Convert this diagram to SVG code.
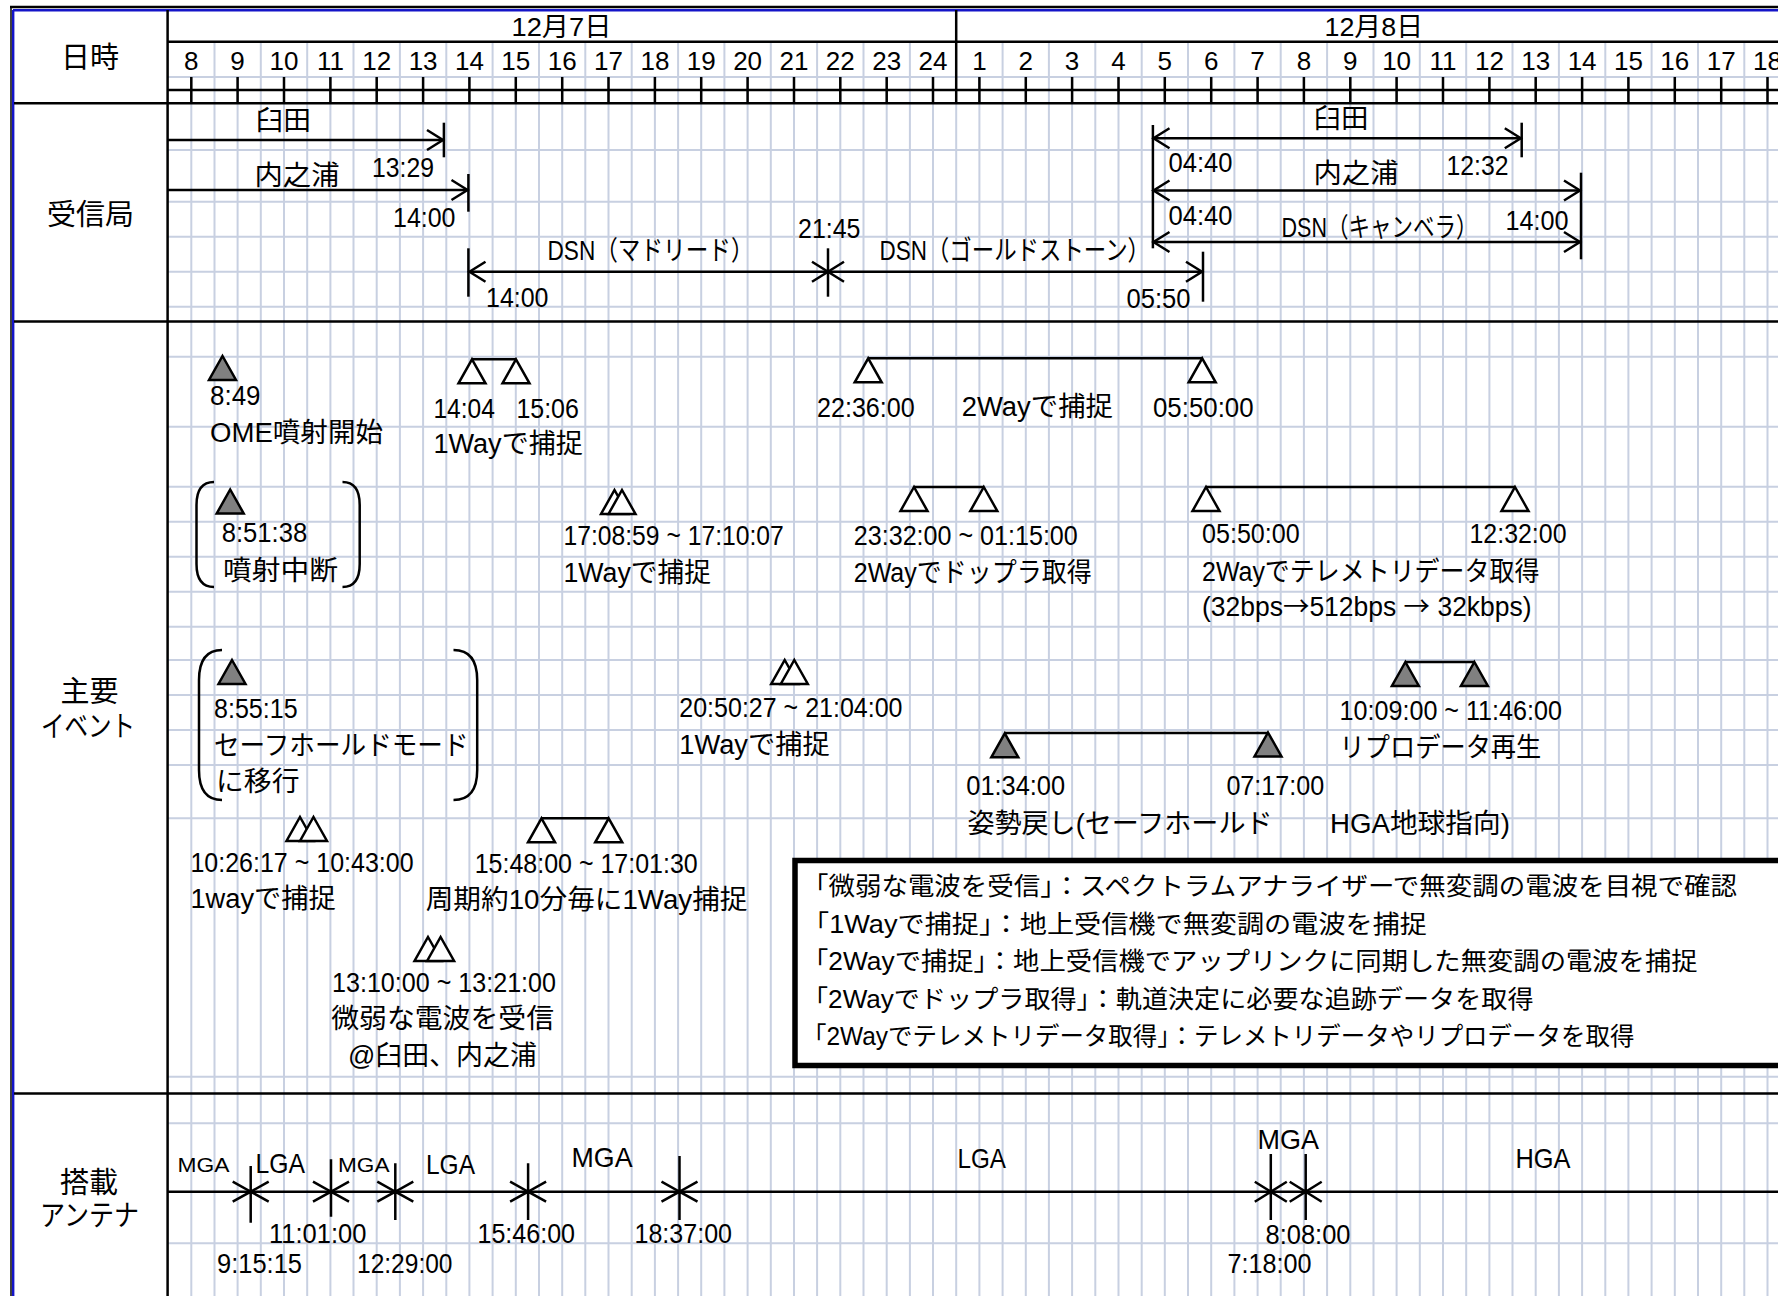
<svg xmlns="http://www.w3.org/2000/svg" width="1778" height="1296" viewBox="0 0 1778 1296">
<style>
.grid{stroke:#c8d0e1;stroke-width:2;fill:none}
.ln{stroke:#000;stroke-width:2.5;fill:none}
.t{font-family:"Liberation Sans","Noto Sans CJK JP",sans-serif;font-size:27px;fill:#000}
.cjk{font-family:"Noto Sans CJK JP",sans-serif}
.hd{font-size:26px;text-anchor:middle}
.lbl{font-size:29px;text-anchor:middle}
.lg{font-size:25px}
.sm{font-size:21px}
.big{font-size:28px}
.tri{stroke:#000;stroke-width:2.5;stroke-linejoin:miter}
.g{fill:#808080}
.w{fill:#fff}
.arr{stroke:#000;stroke-width:2.5;fill:none;marker-end:url(#ah)}
.arr2{stroke:#000;stroke-width:2.5;fill:none;marker-start:url(#ah);marker-end:url(#ah)}
</style>
<defs>
<marker id="ah" markerUnits="userSpaceOnUse" markerWidth="18" markerHeight="22" viewBox="0 0 18 22" refX="17" refY="11" orient="auto-start-reverse" overflow="visible">
<path d="M1,1 L17,11 L1,21" fill="none" stroke="#000" stroke-width="2.5"/>
</marker>
<path id="tr" d="M0,0 L13.5,24 L-13.5,24 Z"/>
</defs>
<rect x="0" y="0" width="1778" height="1296" fill="#fff"/>

<!-- grid -->
<g id="grid">
<path class="grid" d="M191.3 77V1296M214.5 41.7V1296M237.6 77V1296M260.8 41.7V1296M284 77V1296M307.2 41.7V1296M330.4 77V1296M353.5 41.7V1296M376.7 77V1296M399.9 41.7V1296M423.1 77V1296M446.3 41.7V1296M469.4 77V1296M492.6 41.7V1296M515.8 77V1296M539 41.7V1296M562.2 77V1296M585.3 41.7V1296M608.5 77V1296M631.7 41.7V1296M654.9 77V1296M678.1 41.7V1296M701.2 77V1296M724.4 41.7V1296M747.6 77V1296M770.8 41.7V1296M794 77V1296M817.1 41.7V1296M840.3 77V1296M863.5 41.7V1296M886.7 77V1296M909.9 41.7V1296M933 77V1296M956.2 103V1296M979.4 77V1296M1002.6 41.7V1296M1025.8 77V1296M1048.9 41.7V1296M1072.1 77V1296M1095.3 41.7V1296M1118.5 77V1296M1141.7 41.7V1296M1164.8 77V1296M1188 41.7V1296M1211.2 77V1296M1234.4 41.7V1296M1257.6 77V1296M1280.7 41.7V1296M1303.9 77V1296M1327.1 41.7V1296M1350.3 77V1296M1373.5 41.7V1296M1396.6 77V1296M1419.8 41.7V1296M1443 77V1296M1466.2 41.7V1296M1489.4 77V1296M1512.5 41.7V1296M1535.7 77V1296M1558.9 41.7V1296M1582.1 77V1296M1605.3 41.7V1296M1628.4 77V1296M1651.6 41.7V1296M1674.8 77V1296M1698 41.7V1296M1721.2 77V1296M1744.3 41.7V1296M1767.5 77V1296"/>
<path class="grid" d="M168 77H1778M168 150H1778M168 201.7H1778M168 236.7H1778M168 271.7H1778M168 306.7H1778M168 356.7H1778M168 426.7H1778M168 486.7H1778M168 521.7H1778M168 556.7H1778M168 591.7H1778M168 626.7H1778M168 660H1778M168 695H1778M168 730H1778M168 765H1778M168 818.3H1778M168 1076.7H1778M168 1123.3H1778M168 1243.3H1778"/>
</g>

<!-- table frame -->
<g id="frame">
<path d="M10 7H1778" stroke="#000" stroke-width="2.5"/>
<path d="M11 7V1296" stroke="#000" stroke-width="1.5"/>
<path d="M13 10.2H1778M13.2 10V1296" stroke="#1414c8" stroke-width="2.4" fill="none"/>
<path class="ln" d="M167.6 10V1296M167.6 41.7H1778M956.2 10V103.3M14 103.3H1778M14 321.5H1778M14 1093.5H1778M167.6 90H1778"/>
<path class="ln" stroke-width="2" d="M191.3 77V103.3M237.6 77V103.3M284 77V103.3M330.4 77V103.3M376.7 77V103.3M423.1 77V103.3M469.4 77V103.3M515.8 77V103.3M562.2 77V103.3M608.5 77V103.3M654.9 77V103.3M701.2 77V103.3M747.6 77V103.3M794 77V103.3M840.3 77V103.3M886.7 77V103.3M933 77V103.3M979.4 77V103.3M1025.8 77V103.3M1072.1 77V103.3M1118.5 77V103.3M1164.8 77V103.3M1211.2 77V103.3M1257.6 77V103.3M1303.9 77V103.3M1350.3 77V103.3M1396.6 77V103.3M1443 77V103.3M1489.4 77V103.3M1535.7 77V103.3M1582.1 77V103.3M1628.4 77V103.3M1674.8 77V103.3M1721.2 77V103.3M1767.5 77V103.3"/>
</g>

<!-- row labels -->
<g id="lbl-nichiji"><text class="t lbl" x="90" y="67.5">日時</text></g>
<g id="lbl-jushinkyoku"><text class="t lbl" x="90.5" y="224.5">受信局</text></g>
<g id="lbl-event"><text class="t lbl" x="89.5" y="702">主要</text><text class="t" style="font-size:29px" x="41" y="736.5" textLength="94" lengthAdjust="spacingAndGlyphs">イベント</text></g>
<g id="lbl-antenna"><text class="t lbl" x="89" y="1193">搭載</text><text class="t" style="font-size:29px" x="40" y="1226" textLength="99" lengthAdjust="spacingAndGlyphs">アンテナ</text></g>

<!-- date header -->
<g id="dates">
<text class="t" style="font-size:26px" x="511.5" y="35.5" textLength="100" lengthAdjust="spacingAndGlyphs">12月7日</text>
<text class="t" style="font-size:26px" x="1324.5" y="36" textLength="98.5" lengthAdjust="spacingAndGlyphs">12月8日</text>
</g>
<g id="hours">
<text class="t hd" x="191.3" y="70">8</text><text class="t hd" x="237.6" y="70">9</text><text class="t hd" x="284" y="70">10</text><text class="t hd" x="330.4" y="70">11</text><text class="t hd" x="376.7" y="70">12</text><text class="t hd" x="423.1" y="70">13</text><text class="t hd" x="469.4" y="70">14</text><text class="t hd" x="515.8" y="70">15</text><text class="t hd" x="562.2" y="70">16</text><text class="t hd" x="608.5" y="70">17</text><text class="t hd" x="654.9" y="70">18</text><text class="t hd" x="701.2" y="70">19</text><text class="t hd" x="747.6" y="70">20</text><text class="t hd" x="794" y="70">21</text><text class="t hd" x="840.3" y="70">22</text><text class="t hd" x="886.7" y="70">23</text><text class="t hd" x="933" y="70">24</text>
<text class="t hd" x="979.4" y="70">1</text><text class="t hd" x="1025.8" y="70">2</text><text class="t hd" x="1072.1" y="70">3</text><text class="t hd" x="1118.5" y="70">4</text><text class="t hd" x="1164.8" y="70">5</text><text class="t hd" x="1211.2" y="70">6</text><text class="t hd" x="1257.6" y="70">7</text><text class="t hd" x="1303.9" y="70">8</text><text class="t hd" x="1350.3" y="70">9</text><text class="t hd" x="1396.6" y="70">10</text><text class="t hd" x="1443" y="70">11</text><text class="t hd" x="1489.4" y="70">12</text><text class="t hd" x="1535.7" y="70">13</text><text class="t hd" x="1582.1" y="70">14</text><text class="t hd" x="1628.4" y="70">15</text><text class="t hd" x="1674.8" y="70">16</text><text class="t hd" x="1721.2" y="70">17</text><text class="t hd" x="1767.5" y="70">18</text>
</g>

<!-- connectors -->
<g id="connectors">
<line class="arr" x1="167.6" y1="140" x2="443" y2="140"/>
<line class="ln" x1="443.9" y1="122.7" x2="443.9" y2="157.3"/>
<line class="arr" x1="167.6" y1="190" x2="467.5" y2="190"/>
<line class="ln" x1="468.4" y1="174" x2="468.4" y2="211.7"/>
<line class="arr2" x1="469.5" y1="271.7" x2="828" y2="271.7"/>
<line class="ln" x1="468.4" y1="248.3" x2="468.4" y2="296.7"/>
<line class="arr2" x1="828" y1="271.7" x2="1202" y2="271.7"/>
<line class="ln" x1="828" y1="248.3" x2="828" y2="296.7"/>
<line class="ln" x1="1203" y1="251.7" x2="1203" y2="301.7"/>
<line class="ln" x1="1152.9" y1="125" x2="1152.9" y2="248.3"/>
<line class="arr2" x1="1153.5" y1="138.3" x2="1520.8" y2="138.3"/>
<line class="ln" x1="1521.7" y1="122.7" x2="1521.7" y2="157.3"/>
<line class="arr2" x1="1153.5" y1="190.5" x2="1580" y2="190.5"/>
<line class="arr2" x1="1153.5" y1="242" x2="1580" y2="242"/>
<line class="ln" x1="1581" y1="172.7" x2="1581" y2="259.3"/>
<line class="ln" x1="472" y1="359.3" x2="516" y2="359.3"/>
<line class="ln" x1="868.2" y1="358.3" x2="1202.2" y2="358.3"/>
<line class="ln" x1="914" y1="487" x2="983.8" y2="487"/>
<line class="ln" x1="1206" y1="487" x2="1515" y2="487"/>
<line class="ln" x1="1405.4" y1="662" x2="1474.4" y2="662"/>
<line class="ln" x1="1004.8" y1="733" x2="1268" y2="733"/>
<line class="ln" x1="541.5" y1="818.3" x2="608.7" y2="818.3"/>
<path class="ln" d="M214 482Q196.5 482 196.5 505L196.5 564Q196.5 587 214 587M342.5 482Q359.7 482 359.7 505L359.7 564Q359.7 587 342.5 587"/>
<path class="ln" d="M222 650Q199 650 199 680L199 770Q199 800 222 800M453.5 650Q477.2 650 477.2 680L477.2 770Q477.2 800 453.5 800"/>
<line class="ln" x1="167.6" y1="1191.7" x2="1778" y2="1191.7"/>
<path class="ln" d="M250.7 1166V1222.7M232.7 1181.7L250.7 1191.7L232.7 1201.7M268.7 1181.7L250.7 1191.7L268.7 1201.7"/>
<path class="ln" d="M331 1159.3V1216.7M313 1181.7L331 1191.7L313 1201.7M349 1181.7L331 1191.7L349 1201.7"/>
<path class="ln" d="M395.3 1163.3V1220M377.3 1181.7L395.3 1191.7L377.3 1201.7M413.3 1181.7L395.3 1191.7L413.3 1201.7"/>
<path class="ln" d="M528.1 1163.3V1220M510.1 1181.7L528.1 1191.7L510.1 1201.7M546.1 1181.7L528.1 1191.7L546.1 1201.7"/>
<path class="ln" d="M679.5 1156V1220M661.5 1181.7L679.5 1191.7L661.5 1201.7M697.5 1181.7L679.5 1191.7L697.5 1201.7"/>
<path class="ln" d="M1270.8 1154V1220M1254.8 1181.7L1270.8 1191.7L1254.8 1201.7M1286.8 1181.7L1270.8 1191.7L1286.8 1201.7"/>
<path class="ln" d="M1305.7 1154V1220M1289.7 1181.7L1305.7 1191.7L1289.7 1201.7M1321.7 1181.7L1305.7 1191.7L1321.7 1201.7"/>
</g>

<!-- station labels -->
<g id="st-usuda1"><text class="t" x="255.5" y="129.5" textLength="55.5" lengthAdjust="spacingAndGlyphs">臼田</text><text class="t" x="372" y="176.7" textLength="62" lengthAdjust="spacingAndGlyphs">13:29</text></g>
<g id="st-uchinoura1"><text class="t" x="254.5" y="184.5" textLength="85" lengthAdjust="spacingAndGlyphs">内之浦</text><text class="t" x="393" y="226.7" textLength="62.5" lengthAdjust="spacingAndGlyphs">14:00</text></g>
<g id="st-madrid"><text class="t" x="547.5" y="260" textLength="206" lengthAdjust="spacingAndGlyphs">DSN（マドリード）</text><text class="t" x="486" y="306.7" textLength="62.5" lengthAdjust="spacingAndGlyphs">14:00</text><text class="t" x="798" y="238.3" textLength="62.5" lengthAdjust="spacingAndGlyphs">21:45</text></g>
<g id="st-goldstone"><text class="t" x="879.5" y="260" textLength="270.5" lengthAdjust="spacingAndGlyphs">DSN（ゴールドストーン）</text><text class="t" x="1126.5" y="308.3" textLength="64" lengthAdjust="spacingAndGlyphs">05:50</text></g>
<g id="st-usuda2"><text class="t" x="1313.5" y="128" textLength="55" lengthAdjust="spacingAndGlyphs">臼田</text><text class="t" x="1168.5" y="171.7" textLength="64" lengthAdjust="spacingAndGlyphs">04:40</text><text class="t" x="1446.5" y="175" textLength="62" lengthAdjust="spacingAndGlyphs">12:32</text></g>
<g id="st-uchinoura2"><text class="t" x="1313.5" y="183" textLength="85" lengthAdjust="spacingAndGlyphs">内之浦</text><text class="t" x="1168.5" y="225" textLength="64" lengthAdjust="spacingAndGlyphs">04:40</text></g>
<g id="st-canberra"><text class="t" x="1281.5" y="236.5" textLength="196" lengthAdjust="spacingAndGlyphs">DSN（キャンベラ）</text><text class="t" x="1505.5" y="230" textLength="63" lengthAdjust="spacingAndGlyphs">14:00</text></g>

<!-- events -->
<g id="ev-ome"><use href="#tr" x="222.5" y="356" class="tri g"/><text class="t" x="210" y="405" textLength="50.5" lengthAdjust="spacingAndGlyphs">8:49</text><text class="t" x="210" y="441.5" textLength="173" lengthAdjust="spacingAndGlyphs">OME噴射開始</text></g>
<g id="ev-1way-a"><use href="#tr" x="472" y="359.3" class="tri w"/><use href="#tr" x="516" y="359.3" class="tri w"/><text class="t" x="433.4" y="418.3" textLength="61.5" lengthAdjust="spacingAndGlyphs">14:04</text><text class="t" x="516.4" y="418.3" textLength="62.5" lengthAdjust="spacingAndGlyphs">15:06</text><text class="t" x="433.4" y="453" textLength="149.5" lengthAdjust="spacingAndGlyphs">1Wayで捕捉</text></g>
<g id="ev-interrupt"><use href="#tr" x="230.2" y="489.5" class="tri g"/><text class="t" x="221.7" y="541.7" textLength="85.5" lengthAdjust="spacingAndGlyphs">8:51:38</text><text class="t" x="222.9" y="579.5" textLength="115" lengthAdjust="spacingAndGlyphs">噴射中断</text></g>
<g id="ev-1way-b"><use href="#tr" x="614.5" y="490" class="tri w"/><use href="#tr" x="622" y="490" class="tri w"/><text class="t" x="563.5" y="545" textLength="220.3" lengthAdjust="spacingAndGlyphs">17:08:59 ~ 17:10:07</text><text class="t" x="563.5" y="581.5" textLength="147.6" lengthAdjust="spacingAndGlyphs">1Wayで捕捉</text></g>
<g id="ev-2way"><use href="#tr" x="868.2" y="358.3" class="tri w"/><use href="#tr" x="1202.2" y="358.3" class="tri w"/><text class="t" x="817" y="416.7" textLength="97.7" lengthAdjust="spacingAndGlyphs">22:36:00</text><text class="t" x="961.7" y="416" textLength="151.3" lengthAdjust="spacingAndGlyphs">2Wayで捕捉</text><text class="t" x="1153" y="416.7" textLength="100.6" lengthAdjust="spacingAndGlyphs">05:50:00</text></g>
<g id="ev-doppler"><use href="#tr" x="914" y="487" class="tri w"/><use href="#tr" x="983.8" y="487" class="tri w"/><text class="t" x="853.8" y="545" textLength="224" lengthAdjust="spacingAndGlyphs">23:32:00 ~ 01:15:00</text><text class="t" x="853.8" y="582" textLength="238" lengthAdjust="spacingAndGlyphs">2Wayでドップラ取得</text></g>
<g id="ev-telemetry"><use href="#tr" x="1206" y="487" class="tri w"/><use href="#tr" x="1515" y="487" class="tri w"/><text class="t" x="1202" y="543.3" textLength="97.7" lengthAdjust="spacingAndGlyphs">05:50:00</text><text class="t" x="1469.5" y="543.3" textLength="97" lengthAdjust="spacingAndGlyphs">12:32:00</text><text class="t" x="1202" y="581" textLength="337.4" lengthAdjust="spacingAndGlyphs">2Wayでテレメトリデータ取得</text><text class="t" x="1202" y="615.5" textLength="329.6" lengthAdjust="spacingAndGlyphs">(32bps<tspan class="cjk">→</tspan>512bps <tspan class="cjk">→</tspan> 32kbps)</text></g>
<g id="ev-safehold"><use href="#tr" x="232" y="660" class="tri g"/><text class="t" x="214" y="718.3" textLength="83.6" lengthAdjust="spacingAndGlyphs">8:55:15</text><text class="t" x="214" y="754.5" textLength="254.6" lengthAdjust="spacingAndGlyphs">セーフホールドモード</text><text class="t" x="216" y="791" textLength="83.5" lengthAdjust="spacingAndGlyphs">に移行</text></g>
<g id="ev-1way-c"><use href="#tr" x="784.7" y="660" class="tri w"/><use href="#tr" x="794.3" y="660" class="tri w"/><text class="t" x="679.3" y="717.3" textLength="223.2" lengthAdjust="spacingAndGlyphs">20:50:27 ~ 21:04:00</text><text class="t" x="679.3" y="754" textLength="150.5" lengthAdjust="spacingAndGlyphs">1Wayで捕捉</text></g>
<g id="ev-repro"><use href="#tr" x="1405.4" y="662" class="tri g"/><use href="#tr" x="1474.4" y="662" class="tri g"/><text class="t" x="1339.6" y="720" textLength="222.3" lengthAdjust="spacingAndGlyphs">10:09:00 ~ 11:46:00</text><text class="t" x="1339.6" y="756.5" textLength="201.7" lengthAdjust="spacingAndGlyphs">リプロデータ再生</text></g>
<g id="ev-attitude"><use href="#tr" x="1004.8" y="733.3" class="tri g"/><use href="#tr" x="1268" y="732.5" class="tri g"/><text class="t" x="966.3" y="795" textLength="98.8" lengthAdjust="spacingAndGlyphs">01:34:00</text><text class="t" x="1226.4" y="795" textLength="97.8" lengthAdjust="spacingAndGlyphs">07:17:00</text><text class="t" x="967.4" y="832.5" textLength="305.2" lengthAdjust="spacingAndGlyphs">姿勢戻し(セーフホールド</text><text class="t" x="1329.9" y="832.5" textLength="180" lengthAdjust="spacingAndGlyphs">HGA地球指向)</text></g>
<g id="ev-1way-d"><use href="#tr" x="300" y="817" class="tri w"/><use href="#tr" x="313.5" y="817" class="tri w"/><text class="t" x="190.4" y="871.7" textLength="223.2" lengthAdjust="spacingAndGlyphs">10:26:17 ~ 10:43:00</text><text class="t" x="190.4" y="908" textLength="145.5" lengthAdjust="spacingAndGlyphs">1wayで捕捉</text></g>
<g id="ev-periodic"><use href="#tr" x="541.5" y="818.3" class="tri w"/><use href="#tr" x="608.7" y="818.3" class="tri w"/><text class="t" x="474.7" y="873.3" textLength="223" lengthAdjust="spacingAndGlyphs">15:48:00 ~ 17:01:30</text><text class="t" x="425.7" y="909" textLength="321.8" lengthAdjust="spacingAndGlyphs">周期約10分毎に1Way捕捉</text></g>
<g id="ev-weak"><use href="#tr" x="428" y="937" class="tri w"/><use href="#tr" x="440.6" y="937" class="tri w"/><text class="t" x="332" y="991.7" textLength="224" lengthAdjust="spacingAndGlyphs">13:10:00 ~ 13:21:00</text><text class="t" x="331.2" y="1028" textLength="222.8" lengthAdjust="spacingAndGlyphs">微弱な電波を受信</text><text class="t" x="348" y="1064.5" textLength="188.8" lengthAdjust="spacingAndGlyphs">@臼田、内之浦</text></g>

<!-- legend -->
<g id="legend">
<rect x="795" y="860.5" width="1000" height="205" fill="#fff" stroke="#000" stroke-width="5.5"/>
<text class="t lg" x="802" y="894.5" textLength="935" lengthAdjust="spacingAndGlyphs">「微弱な電波を受信」：スペクトラムアナライザーで無変調の電波を目視で確認</text>
<text class="t lg" x="802" y="932.5" textLength="625" lengthAdjust="spacingAndGlyphs">「1Wayで捕捉」：地上受信機で無変調の電波を捕捉</text>
<text class="t lg" x="802" y="970" textLength="895.6" lengthAdjust="spacingAndGlyphs">「2Wayで捕捉」：地上受信機でアップリンクに同期した無変調の電波を捕捉</text>
<text class="t lg" x="802" y="1007.5" textLength="731.5" lengthAdjust="spacingAndGlyphs">「2Wayでドップラ取得」：軌道決定に必要な追跡データを取得</text>
<text class="t lg" x="802" y="1045" textLength="832.4" lengthAdjust="spacingAndGlyphs">「2Wayでテレメトリデータ取得」：テレメトリデータやリプロデータを取得</text>
</g>

<!-- antenna labels -->
<g id="ant-labels">
<text class="t sm" x="177.5" y="1171.7" textLength="52" lengthAdjust="spacingAndGlyphs">MGA</text>
<text class="t big" x="255.5" y="1173.3" textLength="49.5" lengthAdjust="spacingAndGlyphs">LGA</text>
<text class="t sm" x="338" y="1171.7" textLength="51.5" lengthAdjust="spacingAndGlyphs">MGA</text>
<text class="t big" x="426" y="1174" textLength="49" lengthAdjust="spacingAndGlyphs">LGA</text>
<text class="t big" x="571.5" y="1167" textLength="61" lengthAdjust="spacingAndGlyphs">MGA</text>
<text class="t big" x="957.5" y="1168.3" textLength="48.5" lengthAdjust="spacingAndGlyphs">LGA</text>
<text class="t big" x="1257.5" y="1149.3" textLength="61.5" lengthAdjust="spacingAndGlyphs">MGA</text>
<text class="t big" x="1515.5" y="1168.3" textLength="55" lengthAdjust="spacingAndGlyphs">HGA</text>
</g>
<g id="ant-times">
<text class="t" x="269" y="1243.3" textLength="97.5" lengthAdjust="spacingAndGlyphs">11:01:00</text>
<text class="t" x="217" y="1273.3" textLength="85" lengthAdjust="spacingAndGlyphs">9:15:15</text>
<text class="t" x="357" y="1273.3" textLength="95.5" lengthAdjust="spacingAndGlyphs">12:29:00</text>
<text class="t" x="477.5" y="1243.3" textLength="97.5" lengthAdjust="spacingAndGlyphs">15:46:00</text>
<text class="t" x="634.5" y="1243.3" textLength="97.5" lengthAdjust="spacingAndGlyphs">18:37:00</text>
<text class="t" x="1265.5" y="1244" textLength="85" lengthAdjust="spacingAndGlyphs">8:08:00</text>
<text class="t" x="1227.5" y="1273.3" textLength="84" lengthAdjust="spacingAndGlyphs">7:18:00</text>
</g>
</svg>
